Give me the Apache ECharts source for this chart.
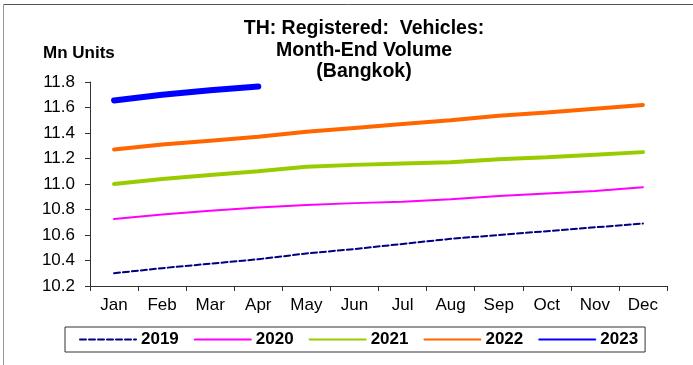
<!DOCTYPE html>
<html>
<head>
<meta charset="utf-8">
<script src="https://cdn.jsdelivr.net/npm/echarts@6/dist/echarts.min.js"></script>
<style>
  html, body { margin: 0; padding: 0; background: #fff; }
  #chart { width: 693px; height: 365px; }
</style>
</head>
<body>
<div id="chart"></div>
<script>
// Month-end registered vehicles in Bangkok, million units
const months = ['Jan', 'Feb', 'Mar', 'Apr', 'May', 'Jun', 'Jul', 'Aug', 'Sep', 'Oct', 'Nov', 'Dec'];
const years = ['2019', '2020', '2021', '2022', '2023'];
const y2019 = [10.30, 10.34, 10.375, 10.41, 10.455, 10.49, 10.53, 10.57, 10.60, 10.63, 10.66, 10.69];
const y2020 = [10.725, 10.76, 10.79, 10.815, 10.835, 10.85, 10.86, 10.88, 10.905, 10.925, 10.945, 10.975];
const y2021 = [11.00, 11.04, 11.07, 11.10, 11.135, 11.15, 11.16, 11.17, 11.195, 11.21, 11.23, 11.25];
const y2022 = [11.27, 11.31, 11.34, 11.37, 11.41, 11.44, 11.47, 11.50, 11.535, 11.56, 11.59, 11.62];
const y2023 = [11.655, 11.70, 11.735, 11.765];
const yTicks = { min: 10.2, max: 11.8, step: 0.2 };

const seriesData = [y2019, y2020, y2021, y2022, y2023];
const seriesStyle = [
  { color: '#000080', width: 2, type: [6, 3] },
  { color: '#FF00FF', width: 2, type: 'solid' },
  { color: '#99CC00', width: 4, type: 'solid' },
  { color: '#FF6600', width: 4, type: 'solid' },
  { color: '#0000FF', width: 6, type: 'solid' }
];

const font = 'Liberation Sans, Arial, sans-serif';
const chart = echarts.init(document.getElementById('chart'), null, { renderer: 'canvas' });

chart.setOption({
  animation: false,
  backgroundColor: '#fff',
  textStyle: { fontFamily: font },
  title: {
    text: 'TH: Registered:  Vehicles:\nMonth-End Volume\n(Bangkok)',
    left: 359,
    top: 13,
    textAlign: 'center',
    textStyle: { fontFamily: font, fontSize: 19.5, fontWeight: 'bold', color: '#000', lineHeight: 21.5 }
  },
  graphic: [
    { type: 'line', shape: { x1: 3.5, y1: 4.5, x2: 693, y2: 4.5 }, style: { stroke: '#555', lineWidth: 1 } },
    { type: 'line', shape: { x1: 3.5, y1: 4.5, x2: 3.5, y2: 365 }, style: { stroke: '#999', lineWidth: 1 } },
    { type: 'text', left: 43, top: 45, style: { text: 'Mn Units', font: 'bold 17px ' + font, fill: '#000' } }
  ],
  grid: { left: 90, right: 26, top: 82, bottom: 79, containLabel: false },
  legend: {
    data: years,
    left: 65,
    top: 327,
    itemWidth: 56,
    itemHeight: 10,
    itemGap: 15,
    padding: [4, 7, 4, 14],
    borderColor: '#333',
    borderWidth: 1,
    itemStyle: { opacity: 0, color: 'transparent', borderWidth: 0 },
    textStyle: { fontFamily: font, fontSize: 17, fontWeight: 'bold', color: '#000' }
  },
  xAxis: {
    type: 'category',
    data: months,
    boundaryGap: true,
    axisLine: { lineStyle: { color: '#333', width: 1 } },
    axisTick: { show: true, length: 5, alignWithLabel: false, lineStyle: { color: '#333' } },
    axisLabel: { fontFamily: font, fontSize: 17, color: '#000', margin: 11, interval: 0 },
    splitLine: { show: false }
  },
  yAxis: {
    type: 'value',
    min: yTicks.min,
    max: yTicks.max,
    interval: yTicks.step,
    axisLine: { show: true, lineStyle: { color: '#333', width: 1 } },
    axisTick: { show: true, length: 5, inside: false, lineStyle: { color: '#333' } },
    axisLabel: { fontFamily: font, fontSize: 17, color: '#000', margin: 15, formatter: v => v.toFixed(1) },
    splitLine: { show: false }
  },
  series: years.map((name, i) => ({
    name,
    type: 'line',
    data: seriesData[i],
    symbol: 'none',
    smooth: false,
    color: seriesStyle[i].color,
    lineStyle: { color: seriesStyle[i].color, width: seriesStyle[i].width, type: seriesStyle[i].type, cap: 'round' },
    z: 2 + i
  }))
});
</script>
</body>
</html>
